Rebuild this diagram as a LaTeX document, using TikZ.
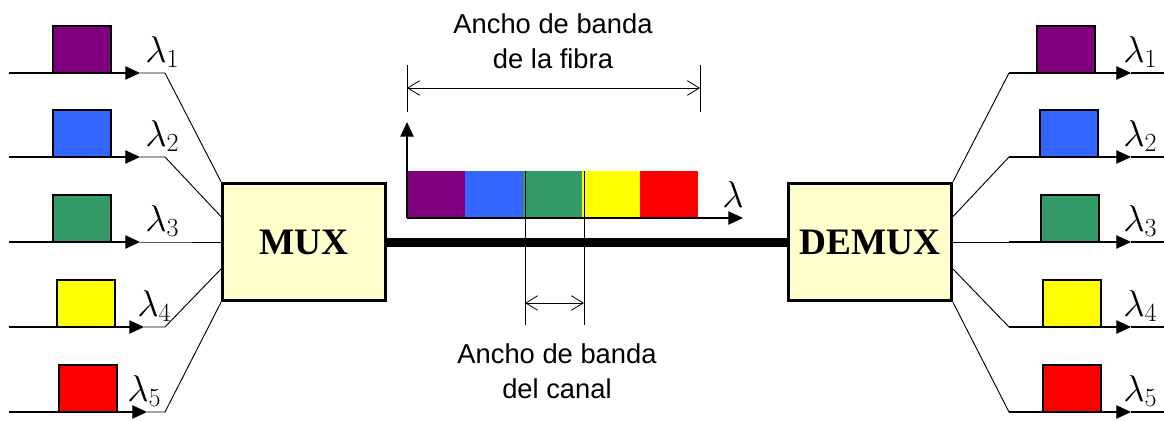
\RequirePackage{fix-cm}
\documentclass[tikz,border=0pt]{standalone}
\usepackage{fontspec}
\setmainfont{Liberation Serif}
\setsansfont{Liberation Sans}
\usetikzlibrary{arrows.meta,positioning}

\definecolor{chpurple}{HTML}{800080}
\definecolor{chblue}{HTML}{3366FF}
\definecolor{chgreen}{HTML}{339966}
\definecolor{chyellow}{HTML}{FFFF00}
\definecolor{chred}{HTML}{FF0000}
\definecolor{boxfill}{HTML}{FFFFCC}

\tikzset{
  block/.style={draw,line width=2.4pt,fill=boxfill,minimum width=122pt,minimum height=88pt,
    font=\fontsize{28}{30}\selectfont\bfseries},
  ch/.style={line width=0.9pt},
  fan/.style={line width=0.7pt},
  fiber/.style={line width=6.75pt},
  dim/.style={line width=0.6pt,{Straight Barb[length=9pt,width=11pt]}-{Straight Barb[length=9pt,width=11pt]}},
  lab/.style={font=\fontsize{28}{30}\selectfont,inner sep=0pt},
  note/.style={font=\sffamily\fontsize{20.5}{26.25}\selectfont,align=center},
}

\begin{document}
\begin{tikzpicture}[x=0.75pt,y=-0.75pt,>={Triangle[length=11pt,width=10pt]}]
\useasboundingbox (0,0) rectangle (1164,421);

% multiplexer, demultiplexer and fibre
\node[block] (mux) at (304,242) {MUX};
\node[block] (demux) at (870,242) {DEMUX};
\draw[fiber] (mux) -- (demux);

% input channels
\foreach \c/\y/\sx/\lx/\tip/\a [count=\i] in {chpurple/73/53/145/140/north west,%
    chblue/157/53/145/140/163,chgreen/242/53/145/140/west,%
    chyellow/327/57/137/144/198,chred/412/59/127/147/south west}{
  \draw[ch,fill=\c] (\sx,\y) rectangle ++(58,-47);
  \coordinate (in\i) at (9,\y);
  \coordinate (intip\i) at (\tip,\y);
  \coordinate (inbend\i) at (165,\y);
  \draw[ch,->] (in\i) -- (intip\i);
  \draw[fan] (intip\i) -- (inbend\i) -- (mux.\a);
  \node[lab,anchor=base west] (inlam\i) at (\lx,\y-11) {$\lambda_{\i}$};
}

% output channels
\foreach \c/\y/\sx/\a [count=\i] in {chpurple/73/1037/north east,%
    chblue/157/1040/17,chgreen/242/1041/east,%
    chyellow/327/1043/-18,chred/412/1043/south east}{
  \draw[ch,fill=\c] (\sx,\y) rectangle ++(58,-47);
  \coordinate (outbend\i) at (1009,\y);
  \coordinate (outtip\i) at (1131,\y);
  \coordinate (out\i) at (1164,\y);
  \draw[fan] (demux.\a) -- (outbend\i);
  \draw[ch,->] (outbend\i) -- (outtip\i);
  \draw[ch] (outtip\i) -- (out\i);
  \node[lab,anchor=base west] (outlam\i) at (1123,\y-11) {$\lambda_{\i}$};
}

% spectrum of the fibre
\foreach \c [count=\i from 0] in {chpurple,chblue,chgreen,chyellow,chred}
  \fill[\c] (407+58.2*\i,171) rectangle ++(58.2,47);
\coordinate (orig) at (407,218);
\coordinate (ytop) at (407,122);
\coordinate (xend) at (743,218);
\draw[ch,->] (orig) -- (ytop);
\draw[ch,->] (orig) -- (xend);
\node[lab,anchor=base west] (lam) at (722,207) {$\lambda$};

% fibre bandwidth
\coordinate (f1) at (407,65);  \coordinate (f1b) at (407,112);
\coordinate (f2) at (700,65);  \coordinate (f2b) at (700,112);
\coordinate (fd1) at (407,88); \coordinate (fd2) at (700,88);
\draw[fan] (f1) -- (f1b);
\draw[fan] (f2) -- (f2b);
\draw[dim] (fd1) -- (fd2);
\node[note] (bwfibre) at (553,41) {Ancho de banda\\de la fibra};

% channel bandwidth
\coordinate (c1) at (525,171); \coordinate (c1b) at (525,325);
\coordinate (c2) at (584,171); \coordinate (c2b) at (584,325);
\coordinate (cd1) at (525,303); \coordinate (cd2) at (584,303);
\draw[fan] (c1) -- (c1b);
\draw[fan] (c2) -- (c2b);
\draw[dim] (cd1) -- (cd2);
\node[note] (bwchan) at (557,371) {Ancho de banda\\del canal};
\end{tikzpicture}
\end{document}
